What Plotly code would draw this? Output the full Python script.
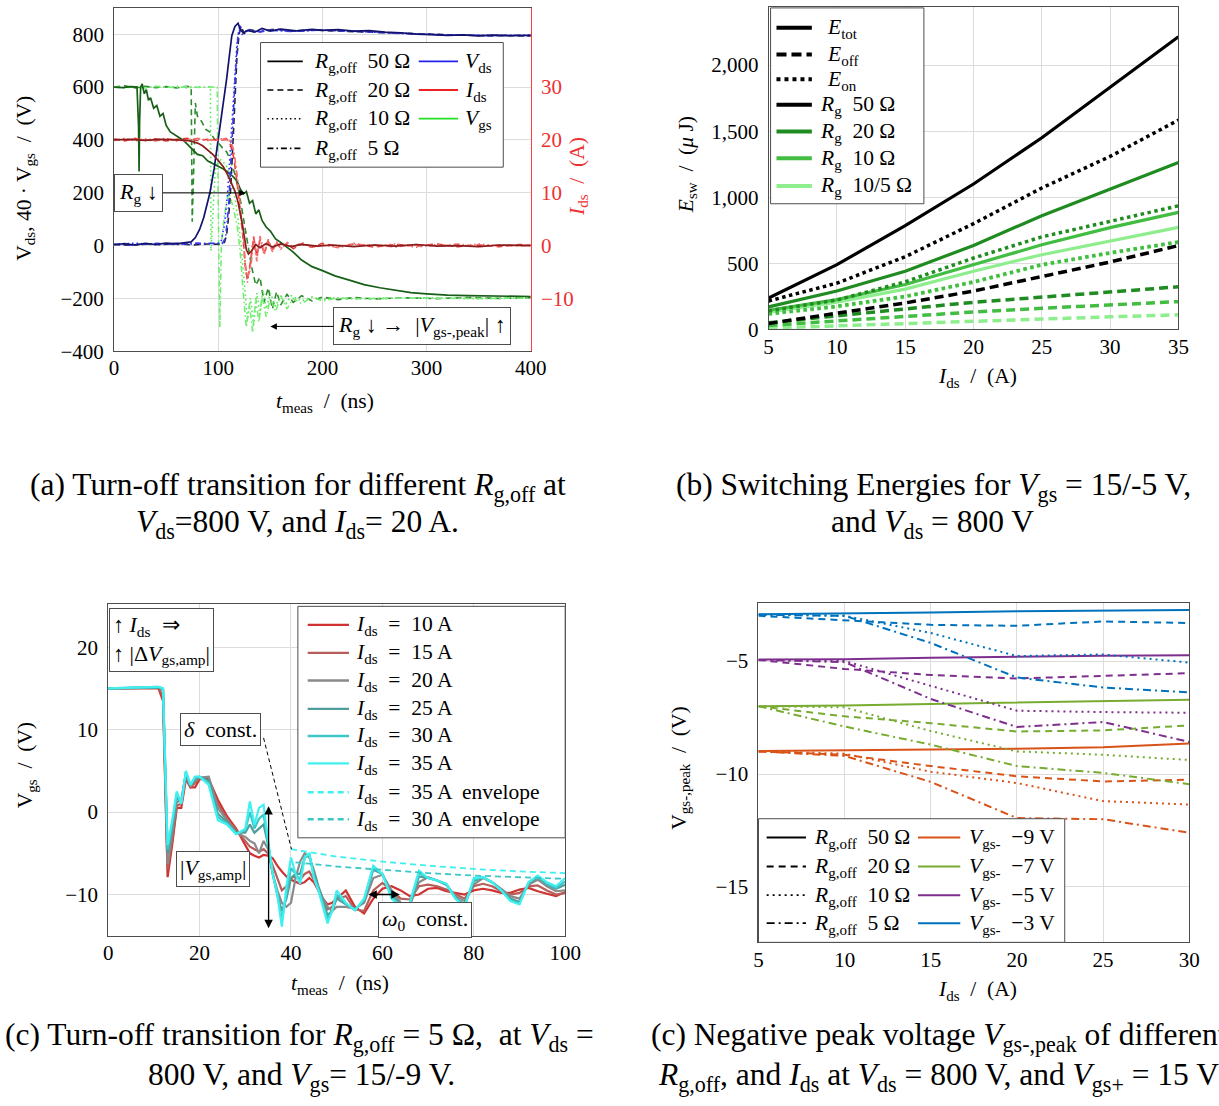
import plotly.graph_objects as go

W, H = 1219, 1106
FONT = "Liberation Serif, Times New Roman, serif"
FRAME = "#4d4d4d"
GRID = "#dcdcdc"


def PX(x):
    return x / W


def PY(y):
    return 1 - y / H


# ======================= (a) turn-off transition =======================
t_vds50 = [0, 10, 20, 30, 40, 50, 60, 70, 74, 78, 82, 86, 90, 92, 96, 100, 104, 108, 111, 113, 116, 119, 121, 124, 128,
           135, 142, 150, 160, 175, 190, 200, 215, 230, 245, 260, 275, 290, 305, 320, 335, 350, 365, 380, 400]
v_vds50 = [3, 7, 2, 8, 4, 9, 6, 10, 14, 30, 60, 105, 165, 200, 290, 400, 510, 630, 730, 795, 830, 842, 820, 805, 815,
           808, 822, 812, 820, 813, 819, 815, 818, 812, 814, 808, 806, 801, 799, 796, 798, 794, 797, 795, 796]
t_vds20 = [0, 15, 30, 45, 60, 75, 90, 100, 106, 108, 110, 112, 114, 116, 118, 120, 122, 125,
           130, 140, 155, 170, 190, 210, 240, 270, 300, 330, 360, 400]
v_vds20 = [5, 1, 7, 3, 8, 2, 6, 5, 12, 40, 110, 220, 380, 560, 720, 800, 828, 803,
           818, 810, 820, 812, 817, 813, 809, 805, 800, 797, 795, 794]
t_vds10 = [0, 20, 40, 60, 80, 100, 103, 106, 109, 112, 115, 118, 120, 123, 128, 135,
           150, 170, 200, 240, 280, 320, 360, 400]
v_vds10 = [4, 9, 3, 8, 5, 8, 20, 80, 200, 380, 600, 770, 815, 800, 818, 809,
           818, 812, 816, 810, 803, 797, 796, 795]
t_vds5 = [0, 20, 40, 60, 80, 104, 107, 110, 113, 116, 119, 121, 124,
          130, 140, 150, 170, 200, 240, 280, 320, 360, 400]
v_vds5 = [4, 2, 8, 4, 9, 8, 30, 150, 380, 620, 800, 832, 806,
          816, 809, 815, 811, 816, 810, 802, 798, 795, 797]

t_ids50 = [0, 15, 30, 45, 60, 70, 75, 80, 85, 90, 95, 100, 105, 109, 113, 116, 119, 121, 123, 125,
           127, 129, 132, 136, 140, 146, 152, 160, 170, 180, 195, 210, 230, 250, 270, 290, 310, 330, 350, 370, 400]
i_ids50 = [20.0, 20.1, 19.9, 20.1, 20.0, 19.9, 19.7, 19.4, 18.9, 18.1, 17.2, 16.1, 14.9, 13.4, 11.6, 10.3, 8.2, 6.5, 4.2, 1.8,
           -0.8, -1.6, -1.0, 0.2, -0.4, 0.4, -0.3, 0.3, -0.2, 0.2, -0.1, 0.1, -0.2, 0.1, -0.1, 0.2, -0.1, 0.0, -0.2, 0.1, 0.0]
t_ids = [0, 10, 20, 30, 40, 50, 60, 70, 80, 90, 100, 108, 112, 115, 118, 121, 124, 126, 128, 131, 134,
         137, 140, 144, 148, 152, 156, 160, 166, 172, 180, 190, 200, 215, 230, 250, 270, 290, 310, 330, 350,
         370, 390, 400]
i_ids20 = [20.2, 19.8, 20.3, 19.9, 20.2, 19.8, 20.1, 20.3, 19.9, 20.1, 20.0, 20.2, 19.0, 16.5, 12.0, 6.5, 1.0, -4.0, -6.5, -3.0, 1.5,
           -2.0, 1.0, -1.5, 0.8, -0.8, 0.6, -0.5, 0.4, -0.6, 0.3, -0.3, 0.4, -0.2, 0.3, -0.3, 0.2, -0.1, 0.3, -0.2, 0.1,
           -0.2, 0.2, 0.0]
i_ids10 = [19.9, 20.3, 19.8, 20.2, 20.0, 20.3, 19.8, 20.1, 20.2, 19.9, 20.2, 20.3, 19.5, 17.5, 13.0, 7.0, 1.5, -4.5, -7.0, -3.5, 2.0,
           -2.5, 1.5, -1.8, 1.0, -1.0, 0.8, -0.6, 0.7, -0.4, 0.5, -0.4, 0.2, -0.3, 0.4, -0.1, 0.3, -0.3, 0.2, -0.2, 0.3,
           -0.1, 0.1, 0.1]
i_ids5 = [20.1, 19.9, 20.2, 20.0, 19.8, 20.2, 20.0, 19.8, 20.3, 20.0, 19.9, 20.0, 19.8, 18.0, 13.5, 7.5, 2.0, -3.5, -6.0, -4.5, 1.0,
          -3.0, 1.8, -1.2, 1.2, -1.2, 0.5, -0.7, 0.5, -0.3, 0.6, -0.2, 0.1, -0.4, 0.2, 0.1, -0.3, 0.2, -0.1, 0.3, -0.2,
          0.1, -0.1, 0.1]

t_vgs50 = [0, 8, 16, 22, 23.5, 24, 24.5, 25.5, 27, 29, 31, 33, 35, 38, 41, 44, 47, 50, 54, 58,
           62, 66, 70, 75, 80, 85, 90, 95, 100, 105, 110, 114, 118, 121, 124, 127, 130, 133, 136, 139,
           142, 146, 150, 155, 160, 166, 172, 180, 190, 200, 212, 225, 240, 255, 270, 285, 300, 320, 340, 360,
           380, 400]
v_vgs50 = [600, 598, 602, 600, 450, 280, 470, 600, 612, 575, 590, 550, 560, 520, 530, 490, 500, 455, 430, 420,
           408, 400, 385, 365, 345, 340, 320, 310, 300, 290, 275, 262, 245, 215, 195, 205, 160, 170, 120, 135,
           95, 70, 55, 25, 12, -5, -25, -55, -80, -95, -115, -130, -148, -160, -170, -178, -183, -188, -190, -191,
           -192, -193]
t_vgs20 = [0, 10, 20, 30, 40, 50, 60, 70, 74, 75, 76.5, 78, 80, 84, 88, 92, 96, 100, 104, 108,
           112, 116, 120, 124, 128, 132, 136, 140, 144, 148, 152, 156, 160, 166, 172, 180, 190, 200, 215, 230,
           250, 280, 310, 340, 370, 400]
v_vgs20 = [600, 605, 597, 603, 598, 602, 597, 603, 600, 90, 300, 540, 490, 470, 440, 430, 405, 390, 370, 355,
           320, 270, 200, 110, 20, -80, -150, -120, -215, -160, -240, -175, -225, -185, -215, -190, -210, -195, -205, -197,
           -202, -198, -201, -197, -200, -198]
t_vgs10 = [0, 10, 20, 30, 40, 50, 60, 70, 80, 90, 92.5, 93, 95, 97, 100, 104, 108, 112, 116, 119,
           122, 125, 128, 131, 134, 137, 140, 143, 146, 150, 155, 160, 165, 170, 180, 190, 200, 210, 230, 260,
           300, 350, 400]
v_vgs10 = [600, 597, 603, 598, 602, 599, 603, 597, 601, 600, 600, -20, 150, 280, 330, 320, 300, 250, 180, 100,
           0, -150, -280, -200, -300, -180, -260, -170, -240, -180, -230, -190, -220, -190, -210, -195, -205, -198, -202, -200,
           -198, -201, -199]
t_vgs5 = [0, 10, 20, 30, 40, 50, 60, 70, 80, 90, 99, 100, 101.5, 103, 106, 110, 114, 118, 121, 124,
          127, 130, 133, 136, 139, 142, 146, 150, 155, 160, 166, 172, 180, 190, 200, 215, 230, 260, 300, 350,
          400]
v_vgs5 = [602, 598, 601, 597, 603, 600, 598, 602, 599, 601, 600, 150, -310, 0, 120, 200, 150, 80, -20, -180,
          -310, -220, -330, -200, -290, -190, -270, -200, -250, -190, -240, -200, -220, -195, -210, -198, -202, -200, -199, -201,
          -198]

# ======================= (b) switching energies =======================
ids_b = [5, 10, 15, 20, 25, 30, 35]
etot_50 = [237, 490, 785, 1100, 1450, 1833, 2215]
eon_50 = [215, 350, 550, 800, 1070, 1309, 1584]
eoff_50 = [45, 122, 200, 290, 400, 510, 634]
etot_20 = [170, 290, 440, 635, 860, 1060, 1262]
eon_20 = [140, 222, 360, 540, 700, 815, 935]
eoff_20 = [50, 105, 155, 205, 245, 285, 322]
etot_10 = [145, 225, 340, 490, 640, 770, 885]
eon_10 = [118, 175, 250, 360, 490, 580, 662]
eoff_10 = [30, 65, 100, 132, 160, 186, 210]
etot_105 = [130, 205, 305, 440, 565, 670, 772]
eon_105 = [115, 170, 245, 355, 485, 575, 658]
eoff_105 = [10, 28, 45, 62, 78, 95, 110]

# ======================= (c) Vgs ringing for different Ids =======================
t_c = [0, 11, 12, 13, 14, 15, 16, 17, 18, 19,
       20, 22, 24, 26, 28, 30, 31, 32, 33, 34,
       35, 36, 37, 38, 39, 40, 41, 42, 43, 44,
       45, 46, 47, 48, 49, 50, 52, 54, 56, 58,
       60, 62, 64, 66, 68, 70, 72, 74, 76, 78,
       80, 82, 84, 86, 88, 90, 92, 94, 96, 98,
       100]
vgs_10A = [15.0, 15.0, 13.5, -7.9, -4.0, 0.5, 0.5, 4.0, 3.0, 3.0,
           4.0, 4.0, 1.5, -0.5, -2.0, -3.9, -5.0, -5.3, -5.5, -5.2,
           -5.3, -5.6, -6.5, -7.2, -7.8, -8.2, -8.5, -8.7, -8.5, -8.0,
           -8.5, -9.5, -10.5, -11.2, -11.0, -10.5, -9.5, -11.5, -12.3, -10.5,
           -9.3, -9.0, -9.5, -10.2, -10.0, -9.3, -9.2, -9.6, -9.8, -10.0,
           -9.5, -9.3, -9.5, -9.8, -9.8, -9.4, -9.2, -9.6, -9.9, -10.2,
           -9.7]
vgs_15A = [15.0, 15.1, 14.0, -7.0, -3.5, 0.8, 1.0, 4.2, 3.0, 3.5,
           4.1, 3.9, 1.0, -0.8, -2.2, -3.5, -4.2, -4.5, -4.8, -4.5,
           -5.0, -6.5, -8.0, -9.5, -9.0, -8.0, -7.8, -8.2, -7.5, -7.2,
           -8.2, -9.5, -10.8, -11.8, -11.5, -10.5, -10.2, -11.8, -12.0, -9.5,
           -8.6, -9.5, -10.5, -10.6, -9.0, -8.8, -9.0, -9.4, -10.0, -10.5,
           -9.0, -8.7, -9.0, -9.6, -10.0, -9.8, -9.0, -8.9, -9.5, -10.0,
           -9.8]
vgs_20A = [15.0, 15.1, 14.8, -6.3, -2.5, 1.2, 1.5, 4.5, 3.2, 3.8,
           4.2, 4.3, 0.5, -1.0, -2.5, -3.0, -3.5, -3.8, -5.0, -3.5,
           -4.5, -7.5, -9.5, -11.0, -11.5, -11.0, -8.0, -6.0, -5.0, -5.5,
           -7.0, -9.0, -10.5, -11.5, -12.0, -11.5, -11.5, -11.7, -11.0, -8.0,
           -7.6, -9.5, -11.0, -11.3, -8.5, -7.9, -8.3, -8.8, -10.2, -10.8,
           -8.8, -8.0, -8.5, -9.3, -10.2, -10.5, -8.8, -8.2, -9.0, -9.6,
           -9.5]
vgs_25A = [15.0, 15.1, 14.9, -5.0, -2.0, 1.8, 1.2, 4.7, 3.2, 4.0,
           4.3, 3.8, -0.2, -1.2, -2.5, -2.5, -1.5, -2.5, -2.0, -1.5,
           -4.0, -7.5, -10.0, -12.0, -10.5, -8.0, -7.5, -7.5, -5.5, -5.2,
           -7.5, -9.2, -11.0, -12.5, -12.0, -10.5, -11.2, -11.8, -10.8, -7.0,
           -7.5, -10.0, -11.3, -11.2, -7.8, -8.0, -8.3, -8.8, -10.4, -11.2,
           -8.4, -7.9, -8.5, -9.4, -10.5, -10.9, -8.6, -7.9, -8.8, -9.3,
           -8.8]
vgs_30A = [15.0, 15.2, 15.0, -4.5, -1.5, 2.2, 1.2, 4.9, 3.3, 4.2,
           4.3, 3.5, -0.6, -1.4, -2.6, -2.2, 0.0, -2.0, -0.8, -0.3,
           -3.8, -7.5, -10.0, -13.0, -10.0, -6.8, -7.5, -8.2, -5.5, -5.0,
           -7.8, -9.3, -11.2, -13.0, -12.0, -10.0, -11.1, -11.9, -10.6, -6.8,
           -7.5, -10.3, -11.4, -11.1, -7.4, -8.0, -8.3, -8.7, -10.5, -11.4,
           -8.2, -7.9, -8.5, -9.5, -10.7, -11.1, -8.5, -7.8, -8.7, -9.2,
           -8.4]
vgs_35A = [15.0, 15.2, 15.0, -4.0, -1.0, 2.5, 1.0, 5.0, 3.3, 4.3,
           4.3, 3.3, -1.0, -1.5, -2.7, -2.0, 1.3, -1.5, 0.5, 0.9,
           -3.5, -7.5, -10.0, -13.9, -9.0, -5.5, -7.5, -8.7, -5.5, -5.0,
           -8.0, -9.5, -11.5, -13.5, -12.0, -9.5, -11.0, -11.9, -10.5, -6.5,
           -7.5, -10.5, -11.5, -11.0, -7.1, -8.0, -8.3, -8.7, -10.5, -11.5,
           -8.0, -7.9, -8.5, -9.5, -10.8, -11.2, -8.5, -7.7, -8.5, -9.0,
           -8.0]
t_env35 = [40, 50, 60, 70, 80, 90, 100]
v_env35 = [-4.5, -5.4, -6.0, -6.5, -6.9, -7.2, -7.4]
t_env30 = [41, 50, 60, 70, 80, 90, 100]
v_env30 = [-6.1, -6.6, -7.0, -7.4, -7.7, -7.9, -8.1]

# ======================= (d) negative peak voltage =======================
ids_d = [5, 10, 15, 20, 25, 30]
m9_50 = [-8.98, -8.95, -8.9, -8.88, -8.82, -8.65]
m9_20 = [-9.0, -9.15, -9.65, -10.1, -10.33, -10.25]
m9_10 = [-9.0, -9.1, -9.9, -10.4, -11.2, -11.35]
m9_5 = [-9.0, -9.2, -10.35, -11.95, -12.0, -12.6]
m7_50 = [-7.0, -6.97, -6.9, -6.83, -6.77, -6.71]
m7_20 = [-7.0, -7.45, -7.75, -8.12, -8.07, -7.85]
m7_10 = [-7.0, -7.05, -8.1, -9.0, -9.15, -9.38]
m7_5 = [-7.0, -7.9, -8.7, -9.65, -9.95, -10.45]
m5_50 = [-4.93, -4.92, -4.86, -4.8, -4.77, -4.75]
m5_20 = [-4.95, -5.35, -5.62, -5.77, -5.66, -5.54]
m5_10 = [-4.95, -5.0, -6.1, -7.2, -7.26, -7.29]
m5_5 = [-4.95, -5.05, -6.68, -7.92, -7.7, -8.58]
m3_50 = [-2.93, -2.9, -2.85, -2.8, -2.77, -2.74]
m3_20 = [-3.0, -3.2, -3.4, -3.44, -3.25, -3.32]
m3_10 = [-2.95, -3.0, -3.76, -4.78, -4.71, -5.07]
m3_5 = [-2.95, -3.0, -4.2, -5.73, -6.17, -6.39]

# ======================= figure =======================
fig = go.Figure()


def line(x, y, xa, ya, color, width, dash="solid"):
    fig.add_trace(go.Scatter(x=x, y=y, xaxis=xa, yaxis=ya, mode="lines",
                             line=dict(color=color, width=width, dash=dash),
                             showlegend=False, hoverinfo="skip"))


DASH_A, DOT_A, DD_A = "6px,4px", "1.5px,3px", "6px,3px,1.5px,3px"
C_VDS50, C_VDS20, C_VDS10, C_VDS5 = "#12126e", "#222238", "#2a2aff", "#3a3af0"
C_IDS50, C_IDS20, C_IDS10, C_IDS5 = "#8b1c1c", "#e53935", "#f06262", "#ef7474"
C_VGS50, C_VGS20, C_VGS10, C_VGS5 = "#175e17", "#2e8b2e", "#55e655", "#72ee72"

# (a)
line(t_vgs20, v_vgs20, "x", "y", C_VGS20, 1.6, DASH_A)
line(t_vgs10, v_vgs10, "x", "y", C_VGS10, 1.6, DOT_A)
line(t_vgs5, v_vgs5, "x", "y", C_VGS5, 1.6, DD_A)
line(t_vgs50, v_vgs50, "x", "y", C_VGS50, 1.7)
line(t_vds20, v_vds20, "x", "y", C_VDS20, 1.6, DASH_A)
line(t_vds10, v_vds10, "x", "y", C_VDS10, 1.6, DOT_A)
line(t_vds5, v_vds5, "x", "y", C_VDS5, 1.6, DD_A)
line(t_vds50, v_vds50, "x", "y", C_VDS50, 1.7)
line(t_ids, i_ids20, "x", "y2", C_IDS20, 1.6, DASH_A)
line(t_ids, i_ids10, "x", "y2", C_IDS10, 1.6, DOT_A)
line(t_ids, i_ids5, "x", "y2", C_IDS5, 1.6, DD_A)
line(t_ids50, i_ids50, "x", "y2", C_IDS50, 1.7)

# (b)
G20, G10, G105 = "#208b20", "#42bd42", "#8eee8e"
DASH_B, DOT_B = "9px,5px", "3.5px,3.5px"
for col, et, eon, eoff in [(G105, etot_105, eon_105, eoff_105), (G10, etot_10, eon_10, eoff_10),
                           (G20, etot_20, eon_20, eoff_20), ("#000000", etot_50, eon_50, eoff_50)]:
    line(ids_b, eoff, "x2", "y3", col, 3.5, DASH_B)
    line(ids_b, eon, "x2", "y3", col, 3.5, DOT_B)
    line(ids_b, et, "x2", "y3", col, 3.2)

# (c)
C_C = ["#d03232", "#b85e5a", "#8a8a8a", "#4f9d9a", "#3cc6c6", "#40f0f0"]
for col, v in zip(C_C, [vgs_10A, vgs_15A, vgs_20A, vgs_25A, vgs_30A, vgs_35A]):
    line(t_c, v, "x3", "y4", col, 2.2)
line(t_env35, v_env35, "x3", "y4", "#40f0f0", 1.8, "6px,4px")
line(t_env30, v_env30, "x3", "y4", "#3cc6c6", 1.8, "6px,4px")

# (d)
C_M9, C_M7, C_M5, C_M3 = "#D95319", "#77AC30", "#7E2F8E", "#0072BD"
DASH_D, DOT_D, DD_D = "7px,5px", "2px,4px", "8px,4px,2px,4px"
for col, a, b, c, d in [(C_M9, m9_50, m9_20, m9_10, m9_5), (C_M7, m7_50, m7_20, m7_10, m7_5),
                        (C_M5, m5_50, m5_20, m5_10, m5_5), (C_M3, m3_50, m3_20, m3_10, m3_5)]:
    line(ids_d, b, "x4", "y5", col, 2, DASH_D)
    line(ids_d, c, "x4", "y5", col, 2, DOT_D)
    line(ids_d, d, "x4", "y5", col, 2, DD_D)
    line(ids_d, a, "x4", "y5", col, 2)

# ----------------------- axes -----------------------
TF = dict(family=FONT, size=21, color="black")


def ax(**kw):
    base = dict(showline=True, linecolor=FRAME, linewidth=1, mirror=True, ticks="",
                showgrid=True, gridcolor=GRID, gridwidth=1, zeroline=False,
                tickfont=TF, ticklabelstandoff=5, fixedrange=True)
    base.update(kw)
    return base


XS = -2  # x tick label standoff
fig.update_layout(
    xaxis=ax(domain=[PX(111), PX(535)], range=[0, 400], anchor="y", tickvals=[0, 100, 200, 300, 400],
             ticklabelstandoff=XS),
    yaxis=ax(domain=[PY(355), PY(8)], range=[-400, 900], anchor="x", mirror=False,
             tickvals=[-400, -200, 0, 200, 400, 600, 800]),
    yaxis2=ax(overlaying="y", side="right", anchor="x", range=[-20, 45], tickvals=[-10, 0, 10, 20, 30],
              linecolor="#ff3b3b", showgrid=False, mirror=False,
              tickfont=dict(family=FONT, size=21, color="#ee3030")),
    xaxis2=ax(domain=[PX(777), PX(1194)], range=[5, 35], anchor="y3", tickvals=[5, 10, 15, 20, 25, 30, 35],
              ticklabelstandoff=XS),
    yaxis3=ax(domain=[PY(333), PY(7)], range=[0, 2440], anchor="x2", tickvals=[0, 500, 1000, 1500, 2000],
              ticktext=["0", "500", "1,000", "1,500", "2,000"]),
    xaxis3=ax(domain=[PX(105), PX(570)], range=[0, 100], anchor="y4", tickvals=[0, 20, 40, 60, 80, 100],
              ticklabelstandoff=XS),
    yaxis4=ax(domain=[PY(946), PY(611)], range=[-15, 25.2], anchor="x3", tickvals=[-10, 0, 10, 20]),
    xaxis4=ax(domain=[PX(766.7), PX(1205)], range=[5, 30], anchor="y5", tickvals=[5, 10, 15, 20, 25, 30],
              ticklabelstandoff=XS),
    yaxis5=ax(domain=[PY(952.7), PY(610)], range=[-17.45, -2.45], anchor="x4", tickvals=[-15, -10, -5]),
)

# ----------------------- shapes & annotations -----------------------
shapes = []
annots = []
LS = 21.5  # legend text size
NS = 22    # note text size


def box(x0, y0, x1, y1):
    shapes.append(dict(type="rect", xref="paper", yref="paper", x0=PX(x0), x1=PX(x1), y0=PY(y1), y1=PY(y0),
                       line=dict(color=FRAME, width=1), fillcolor="white", layer="above"))


def sample(x0, x1, y, color, width, dash="solid"):
    shapes.append(dict(type="line", xref="paper", yref="paper", x0=PX(x0), x1=PX(x1), y0=PY(y), y1=PY(y),
                       line=dict(color=color, width=width, dash=dash), layer="above"))


def text(x, y, s, size=LS, color="black", xanchor="left", yanchor="middle", **kw):
    annots.append(dict(xref="paper", yref="paper", x=PX(x), y=PY(y), text=s, showarrow=False,
                       xanchor=xanchor, yanchor=yanchor, font=dict(family=FONT, size=size, color=color), **kw))


RG = "<i>R</i><sub>g,off</sub>"

# legend (a)
box(260, 43, 507, 169)
rows_a = [62, 91, 120, 150]
for yy, dsh, lab in zip(rows_a, ["solid", DASH_A, DOT_A, DD_A], ["50 Ω", "20 Ω", "10 Ω", "5 Ω"]):
    sample(267, 303, yy, "black", 1.6, dsh)
    text(312, yy + 1, f"{RG}  {lab}")
for yy, col, lab in zip(rows_a[:3], ["#2222ee", "#ee2222", "#22e022"],
                        ["<i>V</i><sub>ds</sub>", "<i>I</i><sub>ds</sub>", "<i>V</i><sub>gs</sub>"]):
    sample(421, 461, yy, col, 1.8)
    text(466, yy + 1, lab)

# legend (b)
box(779, 8, 935, 206)
rows_b = [28, 55, 80, 106, 133, 160, 188]
leg_b = [("black", "solid", "<i>E</i><sub>tot</sub>", 834), ("black", "10px,5px", "<i>E</i><sub>off</sub>", 834),
         ("black", "4px,4px", "<i>E</i><sub>on</sub>", 834),
         ("black", "solid", "<i>R</i><sub>g</sub>  50 Ω", 827), (G20, "solid", "<i>R</i><sub>g</sub>  20 Ω", 827),
         (G10, "solid", "<i>R</i><sub>g</sub>  10 Ω", 827), (G105, "solid", "<i>R</i><sub>g</sub>  10/5 Ω", 827)]
for yy, (col, dsh, lab, xt) in zip(rows_b, leg_b):
    sample(785, 821, yy, col, 4, dsh)
    text(xt, yy + 1, lab)

# legend (c)
box(298, 613, 570, 847)
rows_c = [631.7, 660, 688, 716.7, 744, 771.7, 801, 828.3]
labs_c = ["10 A", "15 A", "20 A", "25 A", "30 A", "35 A", "35 A  envelope", "30 A  envelope"]
cols_c = C_C + ["#40f0f0", "#3cc6c6"]
for i, (yy, col, lab) in enumerate(zip(rows_c, cols_c, labs_c)):
    sample(308, 350, yy, col, 2.4, "solid" if i < 6 else "6px,4px")
    text(355, yy + 1, f"<i>I</i><sub>ds</sub>  =  {lab}")

# legend (d)
box(766.7, 827.7, 1078.3, 952.7)
rows_d = [846.7, 876, 905, 933.3]
for yy, dsh, lab in zip(rows_d, ["solid", DASH_D, DOT_D, DD_D], ["50 Ω", "20 Ω", "10 Ω", "5 Ω"]):
    sample(775, 815, yy, "black", 1.8, dsh)
    text(821, yy + 1, f"{RG}  {lab}")
for yy, col, lab in zip(rows_d, [C_M9, C_M7, C_M5, C_M3], ["−9 V", "−7 V", "−5 V", "−3 V"]):
    sample(929, 972, yy, col, 2)
    text(979, yy + 1, f"<i>V</i><sub>gs-</sub>  {lab}")

# (a) boxed notes with arrows
annots.append(dict(xref="paper", yref="paper", x=PX(245), y=PY(195), ax=-107, ay=0,
                   text="<i>R</i><sub>g</sub> ↓", showarrow=True, arrowhead=2, arrowsize=1.3, arrowwidth=1,
                   arrowcolor="black", bordercolor=FRAME, borderwidth=1, borderpad=4, bgcolor="white",
                   font=dict(family=FONT, size=NS, color="black")))
annots.append(dict(xref="paper", yref="paper", x=PX(270), y=PY(330), ax=151.5, ay=0,
                   text="<i>R</i><sub>g</sub> ↓ →  |<i>V</i><sub>gs-,peak</sub>| ↑", showarrow=True, arrowhead=2,
                   arrowsize=1.3, arrowwidth=1, arrowcolor="black", bordercolor=FRAME, borderwidth=1,
                   borderpad=4, bgcolor="white", font=dict(family=FONT, size=NS, color="black")))

# (c) notes
boxed = dict(bordercolor=FRAME, borderwidth=1, borderpad=3, bgcolor="white")
text(106, 615, "↑ <i>I</i><sub>ds</sub>  ⇒<br>↑ |Δ<i>V</i><sub>gs,amp</sub>|", size=NS, xanchor="left",
     yanchor="top", align="left", **boxed)
text(219.5, 738, "<i>δ</i>  const.", size=NS, xanchor="center", **boxed)
text(212, 879, "|<i>V</i><sub>gs,amp</sub>|", size=NS, xanchor="center", **boxed)
text(427.5, 930, "<i>ω</i><sub>0</sub>  const.", size=NS, xanchor="center", **boxed)
shapes.append(dict(type="line", xref="x3", yref="y4", x0=34.0, y0=9.0, x1=40.1, y1=-4.5,
                   line=dict(color="black", width=1, dash="4px,3px"), layer="above"))
annots.append(dict(xref="x3", yref="y4", x=35.1, y=-14.1, axref="x3", ayref="y4", ax=35.1, ay=0.9, text="",
                   showarrow=True, arrowhead=2, startarrowhead=2, arrowside="end+start", arrowsize=1.3,
                   startarrowsize=1.3, arrowwidth=1.3, arrowcolor="black"))
annots.append(dict(xref="x3", yref="y4", x=63.8, y=-10.0, axref="x3", ayref="y4", ax=56.6, ay=-10.0, text="",
                   showarrow=True, arrowhead=2, startarrowhead=2, arrowside="end+start", arrowsize=1.3,
                   startarrowsize=1.3, arrowwidth=1.3, arrowcolor="black"))

# axis titles
AT = 21.5
text(326, 407, "<i>t</i><sub>meas</sub>  /  (ns)", size=AT, xanchor="center")
text(20, 180, "V<sub>ds</sub>, 40 · V<sub>gs</sub>  /  (V)", size=AT, xanchor="center", textangle=-90)
text(583, 178, "<i>I</i><sub>ds</sub>  /  (A)", size=AT, color="#ee3030", xanchor="center", textangle=-90)
text(990, 382, "<i>I</i><sub>ds</sub>  /  (A)", size=AT, xanchor="center")
text(694, 167, "<i>E</i><sub>sw</sub>  /  (<i>μ</i> J)", size=AT, xanchor="center", textangle=-90)
text(341, 995, "<i>t</i><sub>meas</sub>  /  (ns)", size=AT, xanchor="center")
text(22, 774, "V<sub>gs</sub>  /  (V)", size=AT, xanchor="center", textangle=-90)
text(990, 1001, "<i>I</i><sub>ds</sub>  /  (A)", size=AT, xanchor="center")
text(687, 777, "V<sub>gs-,peak</sub>  /  (V)", size=AT, xanchor="center", textangle=-90)

# captions
CS = 31.5
text(298, 492, "(a) Turn-off transition for different <i>R</i><sub>g,off</sub> at", size=CS, xanchor="center")
text(298, 530, "<i>V</i><sub>ds</sub>=800 V, and <i>I</i><sub>ds</sub>= 20 A.", size=CS, xanchor="center")
text(945, 492, "(b) Switching Energies for <i>V</i><sub>gs</sub> = 15/-5 V,", size=CS, xanchor="center")
text(944, 530, "and <i>V</i><sub>ds</sub> = 800 V", size=CS, xanchor="center")
text(300, 1048, "(c) Turn-off transition for <i>R</i><sub>g,off</sub> = 5 Ω,  at <i>V</i><sub>ds</sub> =", size=CS,
     xanchor="center")
text(302, 1089, "800 V, and <i>V</i><sub>gs</sub>= 15/-9 V.", size=CS, xanchor="center")
text(655, 1048, "(c) Negative peak voltage <i>V</i><sub>gs-,peak</sub> of different", size=CS, xanchor="left")
text(662, 1089, "<i>R</i><sub>g,off</sub>, and <i>I</i><sub>ds</sub> at <i>V</i><sub>ds</sub> = 800 V, and "
                "<i>V</i><sub>gs+</sub> = 15 V", size=CS, xanchor="left")

fig.update_layout(width=W, height=H, autosize=False, margin=dict(l=0, r=0, t=0, b=0),
                  paper_bgcolor="white", plot_bgcolor="white", showlegend=False,
                  font=dict(family=FONT, size=20, color="black"),
                  shapes=shapes, annotations=annots)

fig.write_html("out.html", config={"displayModeBar": False})
